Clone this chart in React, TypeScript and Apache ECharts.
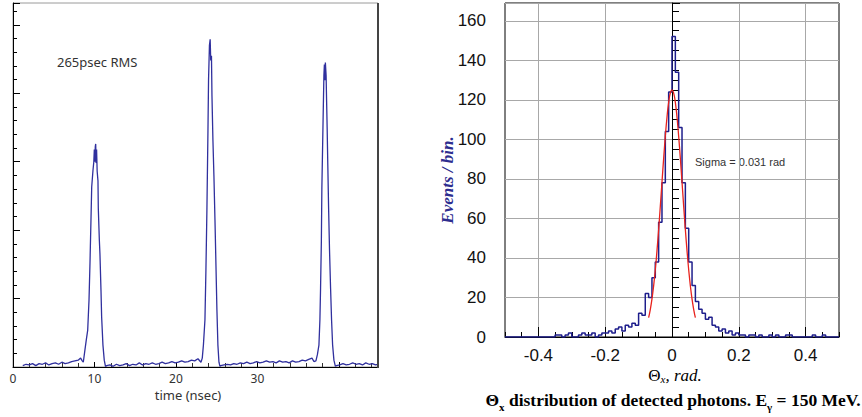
import React, { useEffect, useRef } from 'react';
import * as echarts from 'echarts';

// ---------- Left panel: timing trace (arbitrary count units) ----------
const baselineA: [number, number][] = [
  [1.2, 2], [1.6, 4], [2.0, 3], [2.4, 5], [2.8, 2], [3.2, 5], [3.6, 4], [4.0, 6], [4.4, 3], [4.8, 5],
  [5.2, 6], [5.6, 4], [6.0, 7], [6.4, 5], [6.8, 6], [7.2, 8], [7.6, 9], [8.0, 10], [8.3, 13], [8.5, 9],
];
const peak1: [number, number][] = [
  [8.63, 7], [8.83, 25], [9.0, 40], [9.17, 54], [9.33, 98], [9.45, 152], [9.57, 215], [9.66, 263],
  [9.82, 288], [9.92, 300], [9.98, 318], [10.04, 300], [10.1, 322], [10.15, 326], [10.2, 298],
  [10.26, 318], [10.33, 286], [10.43, 272], [10.47, 232], [10.6, 185], [10.67, 166], [10.8, 112],
  [10.88, 73], [11.04, 32], [11.2, 10], [11.35, 1],
];
const baselineB: [number, number][] = [
  [11.5, 2], [11.9, 3], [12.3, 1], [12.7, 4], [13.1, 2], [13.5, 3], [13.9, 5], [14.3, 2], [14.7, 4],
  [15.1, 3], [15.5, 6], [15.9, 3], [16.3, 5], [16.7, 4], [17.1, 6], [17.5, 4], [17.9, 5], [18.3, 7],
  [18.7, 5], [19.1, 6], [19.5, 8], [19.9, 6], [20.3, 7], [20.7, 9], [21.1, 7], [21.5, 8], [21.9, 10],
  [22.3, 9], [22.7, 12],
];
const peak2: [number, number][] = [
  [23.07, 7], [23.23, 13], [23.37, 32], [23.56, 69], [23.68, 142], [23.8, 229], [23.93, 346],
  [24.0, 419], [24.11, 470], [24.2, 479], [24.27, 448], [24.36, 455], [24.42, 397], [24.54, 331],
  [24.66, 280], [24.79, 215], [24.91, 149], [25.03, 83], [25.15, 32], [25.28, 7], [25.4, 1],
];
const baselineC: [number, number][] = [
  [25.5, 2], [25.9, 3], [26.3, 4], [26.7, 3], [27.1, 5], [27.5, 4], [27.9, 6], [28.3, 5], [28.7, 7],
  [29.1, 5], [29.5, 6], [29.9, 8], [30.3, 6], [30.7, 7], [31.1, 9], [31.5, 7], [31.9, 8], [32.3, 6],
  [32.7, 9], [33.1, 7], [33.5, 8], [33.9, 6], [34.3, 9], [34.7, 7], [35.1, 8], [35.5, 10], [35.9, 9],
  [36.3, 11], [36.7, 13],
];
const peak3: [number, number][] = [
  [36.93, 8], [37.18, 9], [37.36, 18], [37.55, 32], [37.67, 69], [37.75, 115], [37.85, 185],
  [37.91, 261], [38.07, 368], [38.16, 426], [38.22, 442], [38.28, 419], [38.34, 445], [38.43, 426],
  [38.49, 390], [38.56, 349], [38.64, 295], [38.73, 236], [38.85, 171], [38.98, 115], [39.1, 69],
  [39.23, 32], [39.39, 10], [39.57, 1],
];
const baselineD: [number, number][] = [
  [39.7, 2], [40.1, 3], [40.5, 5], [40.9, 3], [41.3, 4], [41.7, 6], [42.1, 4], [42.5, 5], [42.9, 3],
  [43.3, 6], [43.7, 4], [44.1, 5], [44.5, 3], [44.8, 4],
];
const timeTickLabels = [0, 10, 20, 30];

// ---------- Right panel: Theta_x histogram (100 bins of 0.01 rad from -0.5) ----------
const histStart = -0.5;
const histBinWidth = 0.01;
const histCounts = [
  0, 0, 0, 0, 0, 0, 0, 0, 0, 0,
  0, 0, 0, 0, 0, 1, 1, 0, 1, 2,
  0, 0, 1, 2, 1, 1, 2, 0, 1, 2,
  2, 3, 2, 4, 5, 3, 6, 5, 7, 6,
  12, 11, 22, 20, 30, 38, 58, 78, 104, 124,
  152, 134, 106, 78, 55, 38, 26, 18, 14, 12,
  9, 10, 6, 5, 3, 4, 2, 3, 1, 2,
  1, 1, 0, 1, 1, 0, 1, 0, 0, 1,
  0, 1, 0, 0, 1, 1, 0, 0, 0, 0,
  0, 0, 1, 0, 0, 1, 0, 0, 0, 0,
];
const fitX = [-0.07, -0.065, -0.06, -0.055, -0.05, -0.045, -0.04, -0.035, -0.03, -0.025, -0.02, -0.015, -0.01, -0.005, 0,
  0.005, 0.01, 0.015, 0.02, 0.025, 0.03, 0.035, 0.04, 0.045, 0.05, 0.055, 0.06, 0.065, 0.07];
const fitY = [9.8, 13.9, 19.2, 25.9, 34.0, 43.6, 54.4, 66.1, 78.3, 90.3, 101.5, 111.2, 118.7, 123.4, 125,
  123.4, 118.7, 111.2, 101.5, 90.3, 78.3, 66.1, 54.4, 43.6, 34.0, 25.9, 19.2, 13.9, 9.8];
const thetaTickLabels = [-0.4, -0.2, 0, 0.2, 0.4];

export default function App() {
  const ref = useRef<HTMLDivElement>(null);

  useEffect(() => {
    const chart = echarts.init(ref.current!, null, { renderer: 'svg' });

    const pulseTrace = [...baselineA, ...peak1, ...baselineB, ...peak2, ...baselineC, ...peak3, ...baselineD];
    const histData: [number, number][] = histCounts.map((c, i) => [histStart + i * histBinWidth, c]);
    histData.push([histStart + histCounts.length * histBinWidth, histCounts[histCounts.length - 1]]);
    const fitData = fitX.map((x, i) => [x, fitY[i]]);

    const sans = 'Liberation Sans';
    const serif = 'Liberation Serif';

    chart.setOption({
      animation: false,
      backgroundColor: '#ffffff',
      grid: [
        { left: 13, top: 3, width: 365, height: 364, show: true, borderColor: '#9a9a9a', borderWidth: 1 },
        { left: 505, top: 3, width: 334, height: 334, show: true, borderColor: '#000', borderWidth: 1 },
      ],
      xAxis: [
        {
          gridIndex: 0, type: 'value', min: 0, max: 44.8, interval: 10,
          axisLine: { show: true, lineStyle: { color: '#000', width: 1 } },
          axisTick: { show: true, inside: true, length: 5, lineStyle: { color: '#000' } },
          minorTick: { show: true, splitNumber: 5, length: 4, lineStyle: { color: '#333' } },
          axisLabel: {
            color: '#333', fontSize: 12, fontFamily: 'Noto Sans', margin: 5, showMaxLabel: false,
            formatter: (v: number) => (timeTickLabels.includes(v) ? String(v) : ''),
          },
          splitLine: { show: false },
        },
        {
          gridIndex: 1, type: 'value', min: -0.5, max: 0.5, interval: 0.05,
          axisLine: { show: true, lineStyle: { color: '#000' } },
          axisTick: { show: true, inside: true, length: 5, lineStyle: { color: '#000' } },
          axisLabel: { show: false },
          splitLine: { show: false },
        },
        {
          gridIndex: 1, type: 'value', position: 'bottom', min: -0.5, max: 0.5,
          axisLine: { show: false },
          axisTick: { show: true, inside: true, length: 10, customValues: thetaTickLabels, lineStyle: { color: '#000' } },
          axisLabel: {
            show: true, customValues: thetaTickLabels, color: '#111', fontSize: 17, fontFamily: sans, margin: 10,
            formatter: (v: number) => (v === 0 ? '0' : v.toFixed(1)),
          },
          splitLine: { show: true, lineStyle: { color: '#a8a8a8', width: 1 } },
        },
      ],
      yAxis: [
        {
          gridIndex: 0, type: 'value', min: 0, max: 532, interval: 100,
          axisLine: { show: true, lineStyle: { color: '#000' } },
          axisTick: { show: true, inside: true, length: 7, lineStyle: { color: '#000' } },
          minorTick: { show: true, splitNumber: 5, length: 4, lineStyle: { color: '#000' } },
          axisLabel: { show: false },
          splitLine: { show: false },
        },
        {
          gridIndex: 1, type: 'value', min: 0, max: 169, interval: 20,
          axisLine: { show: true, lineStyle: { color: '#000' } },
          axisTick: { show: true, inside: true, length: 8, lineStyle: { color: '#000' } },
          minorTick: { show: true, splitNumber: 4, length: 7, lineStyle: { color: '#000' } },
          axisLabel: { color: '#111', fontSize: 17, fontFamily: sans, margin: 19, showMaxLabel: false },
          splitLine: { show: true, lineStyle: { color: '#a8a8a8', width: 1 } },
        },
      ],
      series: [
        {
          type: 'line', xAxisIndex: 0, yAxisIndex: 0, data: pulseTrace, symbol: 'none',
          lineStyle: { color: '#30309e', width: 1.3 }, z: 3,
        },
        {
          type: 'line', xAxisIndex: 1, yAxisIndex: 1, data: histData, step: 'end', symbol: 'none',
          lineStyle: { color: '#1e1e8c', width: 1.5 }, z: 3,
        },
        {
          type: 'line', xAxisIndex: 1, yAxisIndex: 1, data: fitData, smooth: true, symbol: 'none',
          lineStyle: { color: '#e8221c', width: 1.3 }, z: 4,
        },
      ],
      graphic: [
        { type: 'line', shape: { x1: 378, y1: 3, x2: 378, y2: 368 }, style: { stroke: '#444', lineWidth: 2 }, z: 10 },
        {
          type: 'text', x: 57, y: 62,
          style: { text: '265psec RMS', fill: '#333', font: '13px "Noto Sans"', align: 'left', verticalAlign: 'middle' },
        },
        {
          type: 'text', x: 188, y: 395,
          style: { text: 'time (nsec)', fill: '#333', font: '13px "Noto Sans"', align: 'center', verticalAlign: 'middle' },
        },
        {
          type: 'text', x: 695, y: 162,
          style: { text: 'Sigma = 0.031 rad', fill: '#333', font: `11px "${sans}"`, align: 'left', verticalAlign: 'middle' },
        },
        {
          type: 'text', x: 447, y: 180, rotation: Math.PI / 2,
          style: {
            text: 'Events / bin.', fill: '#2d2d8f', font: `italic bold 17px "${serif}"`,
            align: 'center', verticalAlign: 'middle',
          },
        },
        {
          type: 'text', x: 675, y: 375,
          style: {
            text: '{a|Θ}{s|x}{b|, rad.}', align: 'center', verticalAlign: 'middle',
            rich: {
              a: { fontFamily: serif, fontSize: 17, color: '#5252a8', lineHeight: 18, verticalAlign: 'middle' },
              s: { fontFamily: serif, fontSize: 11, fontStyle: 'italic', color: '#5252a8', lineHeight: 10, verticalAlign: 'bottom' },
              b: { fontFamily: serif, fontSize: 17, fontStyle: 'italic', color: '#5252a8', lineHeight: 18, verticalAlign: 'middle' },
            },
          },
        },
        {
          type: 'text', x: 673, y: 400,
          style: {
            text: '{b|Θ}{s|x}{b| distribution of detected photons. E}{s|γ}{b| = 150 MeV.}',
            align: 'center', verticalAlign: 'middle',
            rich: {
              b: { fontFamily: serif, fontSize: 17.5, fontWeight: 'bold', color: '#2a2a82', lineHeight: 24, verticalAlign: 'middle' },
              s: { fontFamily: serif, fontSize: 11, fontWeight: 'bold', color: '#2a2a82', lineHeight: 11, verticalAlign: 'bottom' },
            },
          },
        },
      ],
    });

    return () => chart.dispose();
  }, []);

  return (
    <div
      ref={ref}
      style={{ position: 'absolute', left: 0, top: 0, width: 862, height: 417, background: '#fff' }}
    />
  );
}
